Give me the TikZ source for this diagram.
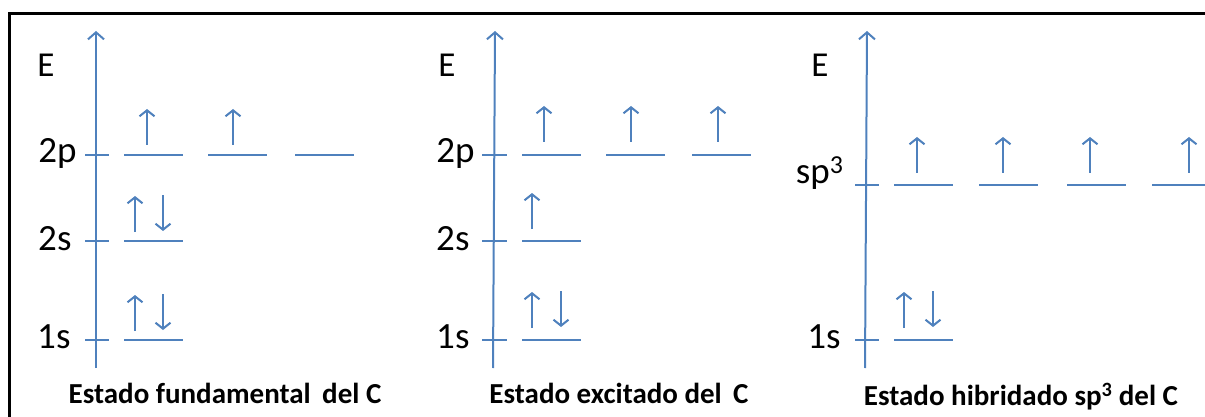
\documentclass[tikz,border=0pt]{standalone}
\usepackage{fontspec}
\setmainfont{Carlito}
\usetikzlibrary{arrows.meta}
\definecolor{eblue}{RGB}{79,129,189}

\begin{document}
\begin{tikzpicture}
  [x=1pt,y=-1pt,
   axis/.style={-{Straight Barb[length=7pt,width=16pt]},line width=2pt,draw=eblue},
   level/.style={line width=2pt,draw=eblue},
   spin/.style={-{Straight Barb[length=6pt,width=15pt]},line width=2pt,draw=eblue},
   frame/.style={line width=3pt,draw=black},
   energy/.style={font=\fontsize{35}{35}\selectfont},
   orbname/.style={font=\fontsize{37}{37}\selectfont,anchor=base east},
   caption/.style={font=\bfseries\fontsize{29}{29}\selectfont}]

  \useasboundingbox (0,0) rectangle (1205,417);

  % Marco
  \coordinate (frametop) at (1205,14);
  \coordinate (framecorner) at (9,14);
  \coordinate (framebottom) at (9,417);
  \draw [frame] (frametop) -- (framecorner) -- (framebottom);

  % Estado fundamental
  \coordinate (axis1low) at (96,368);
  \coordinate (axis1high) at (96,31);
  \draw [axis] (axis1low) -- (axis1high);
  \node (energy1) at (46,65) [energy] {E};
  \node (twop1) at (80,163) [orbname] {2p};
  \node (twos1) at (75,250) [orbname] {2s};
  \node (ones1) at (74,348) [orbname] {1s};
  \foreach \y in {155,241,340}
    \draw [level] (85,\y) -- (109,\y);
  \foreach \x in {124,208,295}
    \draw [level] (\x,155) -- ++(59,0);
  \draw [level] (124,241) -- ++(59,0);
  \draw [level] (124,340) -- ++(59,0);
  \draw [spin] (147,145) -- (147,109);
  \draw [spin] (233,145) -- (233,109);
  \draw [spin] (135,232) -- (135,196);
  \draw [spin] (163,195) -- (163,231);
  \draw [spin] (135,331) -- (135,295);
  \draw [spin] (163,294) -- (163,330);
  \node (caption1) at (225,393) [caption] {Estado fundamental\,\ del C};

  % Estado excitado
  \coordinate (axis2low) at (493,368);
  \coordinate (axis2high) at (495,31);
  \draw [axis] (axis2low) -- (axis2high);
  \node (energy2) at (447,65) [energy] {E};
  \node (twop2) at (478,163) [orbname] {2p};
  \node (twos2) at (473,250) [orbname] {2s};
  \node (ones2) at (473,348) [orbname] {1s};
  \foreach \y in {155,241,340}
    \draw [level] (482,\y) -- (507,\y);
  \foreach \x in {522,606,692}
    \draw [level] (\x,155) -- ++(59,0);
  \draw [level] (522,241) -- ++(59,0);
  \draw [level] (522,340) -- ++(59,0);
  \foreach \x in {544,631,718}
    \draw [spin] (\x,142) -- (\x,106);
  \draw [spin] (532,229) -- (532,193);
  \draw [spin] (532,328) -- (532,292);
  \draw [spin] (561,291) -- (561,327);
  \node (caption2) at (619,393) [caption] {Estado excitado del\,\ C};

  % Estado hibridado
  \coordinate (axis3low) at (865,368);
  \coordinate (axis3high) at (867,31);
  \draw [axis] (axis3low) -- (axis3high);
  \node (energy3) at (820,65) [energy] {E};
  \node (sp3) at (847,183) [orbname] {sp\textsuperscript{3}};
  \node (ones3) at (844,348) [orbname] {1s};
  \foreach \y in {185,340}
    \draw [level] (855,\y) -- (879,\y);
  \foreach \x in {894,979,1067,1152}
    \draw [level] (\x,185) -- ++(59,0);
  \draw [level] (894,340) -- ++(59,0);
  \foreach \x in {917,1003,1090,1189}
    \draw [spin] (\x,173) -- (\x,137);
  \draw [spin] (904,328) -- (904,292);
  \draw [spin] (933,291) -- (933,327);
  \node (caption3) at (1021,397) [caption] {Estado hibridado sp\textsuperscript{3} del C};

\end{tikzpicture}
\end{document}
